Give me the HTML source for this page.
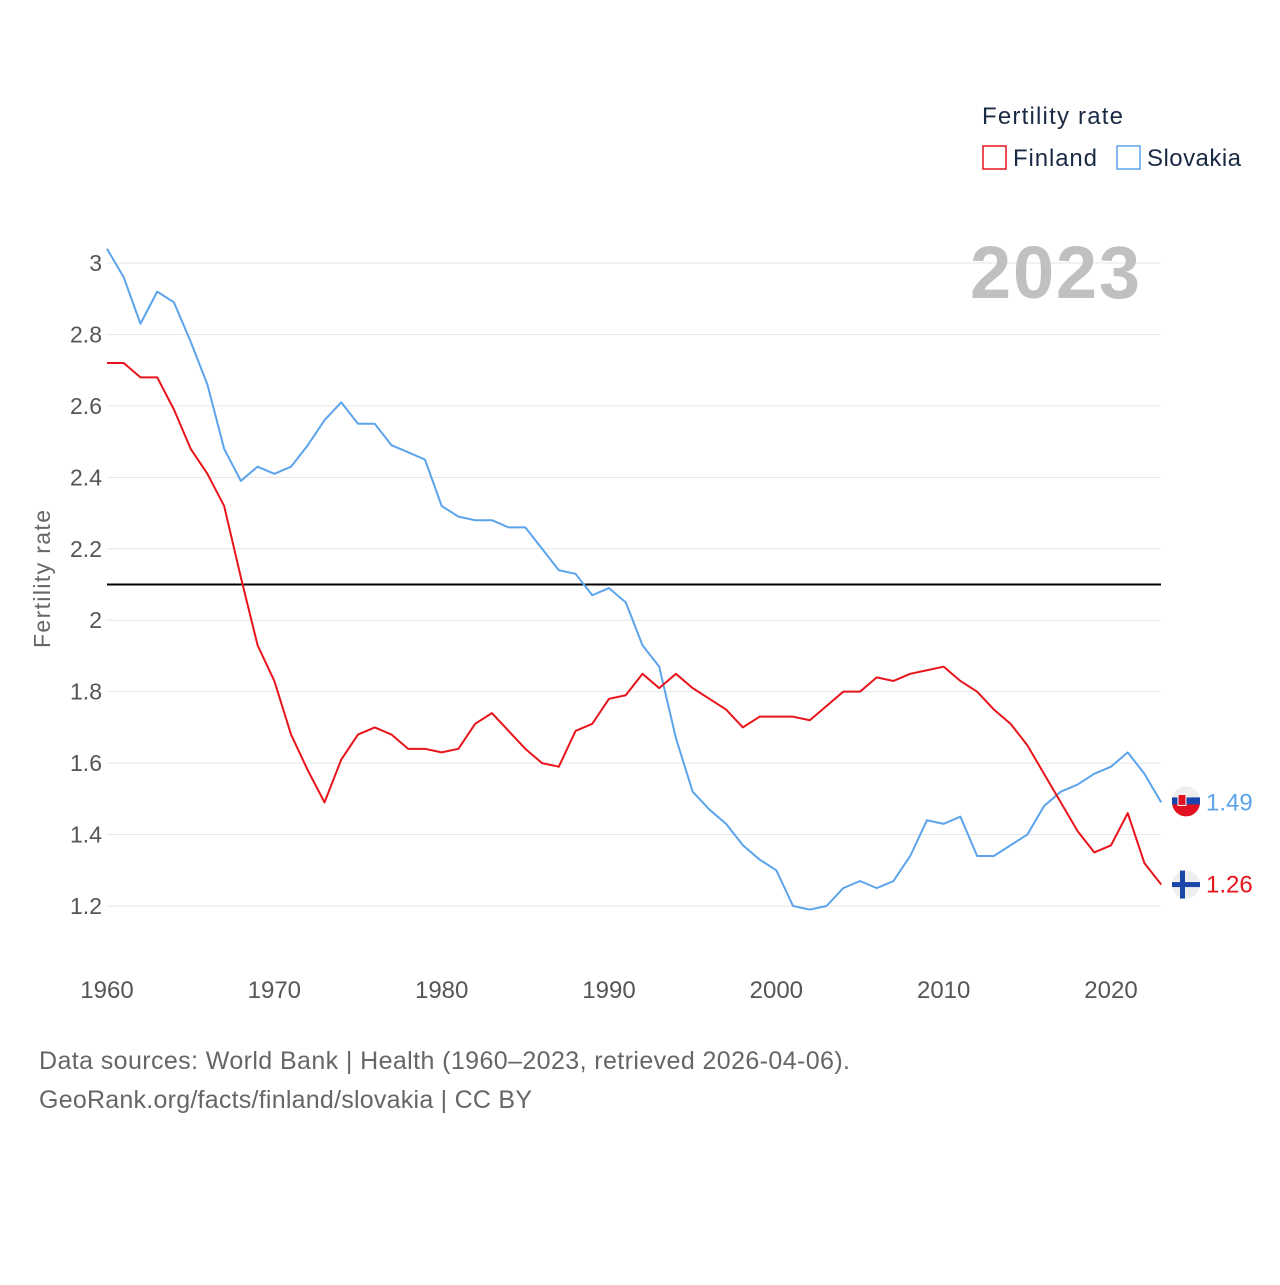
<!DOCTYPE html>
<html><head><meta charset="utf-8"><style>
body{margin:0;background:#fff;width:1280px;height:1280px;overflow:hidden;font-family:"Liberation Sans",sans-serif}
</style></head><body>
<svg width="1280" height="1280" xmlns="http://www.w3.org/2000/svg" font-family="Liberation Sans, sans-serif">
<g id="grid"></g>
<g id="yticks"></g>
<g id="xticks"></g>
<text x="1055" y="298" text-anchor="middle" font-size="74" font-weight="bold" fill="#c0c0c0" textLength="170">2023</text>
<text transform="translate(50,579) rotate(-90)" text-anchor="middle" font-size="23" fill="#666" textLength="138">Fertility rate</text>
<g id="series"></g>
<g>
<text x="982" y="124" font-size="24" fill="#1a2a44" textLength="141">Fertility rate</text>
<g><rect x="983" y="146" width="23" height="23" fill="none" stroke="#e8141b" stroke-width="1.5"/><text x="1013" y="166" font-size="24" fill="#1a2a44" textLength="84">Finland</text></g>
<g><rect x="1117" y="146" width="23" height="23" fill="none" stroke="#5ba4ec" stroke-width="1.5"/><text x="1147" y="166" font-size="24" fill="#1a2a44" textLength="94">Slovakia</text></g>
</g>
<text x="39" y="1069" font-size="25" fill="#666" textLength="811">Data sources: World Bank | Health (1960–2023, retrieved 2026-04-06).</text>
<text x="39" y="1108" font-size="25" fill="#666" textLength="493">GeoRank.org/facts/finland/slovakia | CC BY</text>
</svg>
<script>
const years=[];for(let y=1960;y<=2023;y++)years.push(y);
const finland=[2.72,2.72,2.68,2.68,2.59,2.48,2.41,2.32,2.12,1.93,1.83,1.68,1.58,1.49,1.61,1.68,1.70,1.68,1.64,1.64,1.63,1.64,1.71,1.74,1.69,1.64,1.60,1.59,1.69,1.71,1.78,1.79,1.85,1.81,1.85,1.81,1.78,1.75,1.70,1.73,1.73,1.73,1.72,1.76,1.80,1.80,1.84,1.83,1.85,1.86,1.87,1.83,1.80,1.75,1.71,1.65,1.57,1.49,1.41,1.35,1.37,1.46,1.32,1.26];
const slovakia=[3.04,2.96,2.83,2.92,2.89,2.78,2.66,2.48,2.39,2.43,2.41,2.43,2.49,2.56,2.61,2.55,2.55,2.49,2.47,2.45,2.32,2.29,2.28,2.28,2.26,2.26,2.20,2.14,2.13,2.07,2.09,2.05,1.93,1.87,1.67,1.52,1.47,1.43,1.37,1.33,1.30,1.20,1.19,1.20,1.25,1.27,1.25,1.27,1.34,1.44,1.43,1.45,1.34,1.34,1.37,1.40,1.48,1.52,1.54,1.57,1.59,1.63,1.57,1.49];
const yTicks=[1.2,1.4,1.6,1.8,2,2.2,2.4,2.6,2.8,3];
const xTicks=[1960,1970,1980,1990,2000,2010,2020];
const refLine=2.1;
const NS="http://www.w3.org/2000/svg";
const X=v=>107+(v-1960)*(1004/60);
const Y=v=>906-(v-1.2)*357.2;
function mk(tag,attrs,parent){const e=document.createElementNS(NS,tag);for(const k in attrs)e.setAttribute(k,attrs[k]);parent.appendChild(e);return e;}
const grid=document.getElementById('grid'),yt=document.getElementById('yticks'),xt=document.getElementById('xticks'),ser=document.getElementById('series');
yTicks.forEach(t=>{
 const l=mk('line',{x1:107,x2:1161,y1:Y(t),y2:Y(t),stroke:'#e6e6e6','stroke-width':1},grid);
 
 
 const tx=mk('text',{x:102,y:Y(t)+8,'text-anchor':'end','font-size':23,fill:'#555'},yt);
 tx.textContent=String(t);
 
 
});
xTicks.forEach(t=>{
 const tx=mk('text',{x:X(t),y:998,'text-anchor':'middle','font-size':24,fill:'#555'},xt);
 tx.textContent=String(t);
 
 
});
const rl=mk('line',{x1:107,x2:1161,y1:Y(refLine),y2:Y(refLine),stroke:'#000','stroke-width':2},ser);


function line(vals,color,name){
 const p=mk('polyline',{points:vals.map((v,i)=>X(years[i])+','+Y(v)).join(' '),fill:'none',stroke:color,'stroke-width':2,'stroke-linejoin':'round'},ser);
 
 
}
line(slovakia,'#5ba4ec','slovakia-line');
line(finland,'#e8141b','finland-line');
function endLabel(v,color,name,flag){
 const y=Y(v);
 const g=mk('g',{},ser);
 
 
 if(flag==='fi'){
  mk('circle',{cx:1186,cy:y,r:14,fill:'#eee'},g);
  mk('rect',{x:1172,y:y-2.5,width:28,height:5,fill:'#1946a8'},g);
  mk('rect',{x:1180,y:y-14,width:5,height:28,fill:'#1946a8'},g);
 }else{
  mk('circle',{cx:1186,cy:y,r:14,fill:'#e01020'},g);
  mk('path',{d:`M1172 ${y-2} A14 14 0 0 1 1200 ${y-2} Z`,fill:'#eee'},g);
  mk('rect',{x:1172,y:y-5,width:28,height:7,fill:'#1946a8'},g);
  mk('rect',{x:1178,y:y-8,width:8,height:11,fill:'#e01020',stroke:'#fff','stroke-width':1},g);
 }
 const t=mk('text',{x:1206,y:y+8,'font-size':24,fill:color},g);
 t.textContent=v.toFixed(2);
}
endLabel(slovakia[slovakia.length-1],'#5ba4ec','slovakia-end-label','sk');
endLabel(finland[finland.length-1],'#e8141b','finland-end-label','fi');
</script>
</body></html>
